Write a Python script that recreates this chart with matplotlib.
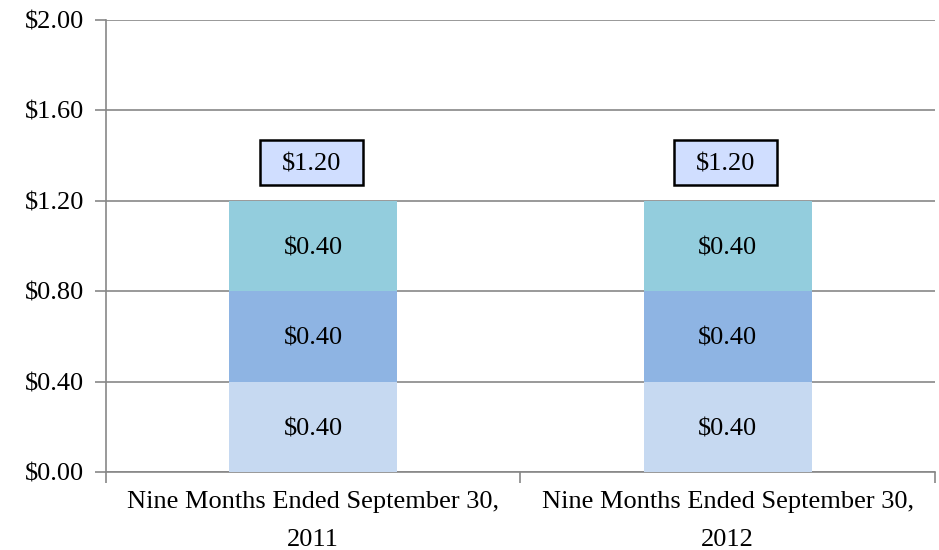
import matplotlib.pyplot as plt
from matplotlib.patches import Rectangle
import numpy as np

plt.rcParams['font.family'] = ['Liberation Serif', 'DejaVu Serif']

categories = ['Nine Months Ended September 30,\n2011', 'Nine Months Ended September 30,\n2012']
bottom_vals = [0.40, 0.40]
middle_vals = [0.40, 0.40]
top_vals = [0.40, 0.40]
totals = [1.20, 1.20]
yticks = [0.0, 0.4, 0.8, 1.2, 1.6, 2.0]

colors = ['#C6D9F1', '#8EB4E3', '#93CDDD']
grid_col = '#878787'
fs = 19

fig = plt.figure(figsize=(9.39, 5.5), dpi=100)
ax = fig.add_axes([0.1129, 0.1418, 0.8828, 0.8218])

x = np.arange(len(categories))
width = 0.405
base = np.zeros(len(categories))
for vals, c in zip([bottom_vals, middle_vals, top_vals], colors):
    ax.bar(x, vals, width, bottom=base, color=c, zorder=3)
    for xi, b, v in zip(x, base, vals):
        ax.text(xi, b + v / 2, f'${v:.2f}', ha='center', va='center_baseline',
                fontsize=fs, zorder=4)
    base = base + np.array(vals)

# total labels in boxes above the stacks
bw, bh = 0.248, 0.198
for xi, t in zip(x, totals):
    cy = t + 0.17
    ax.add_patch(Rectangle((xi - 0.005 - bw / 2, cy - bh / 2), bw, bh,
                           fc='#D0DEFF', ec='black', lw=1.8, zorder=4))
    ax.text(xi - 0.005, cy, f'${t:.2f}', ha='center', va='center_baseline',
            fontsize=fs, zorder=5)

ax.set_ylim(0, 2.0)
ax.set_xlim(-0.5, 1.5)
ax.set_yticks(yticks)
ax.set_yticklabels([f'${v:.2f}' for v in yticks], fontsize=fs)
ax.yaxis.grid(True, color=grid_col, lw=1.2, zorder=0)
ax.tick_params(axis='y', length=8, color=grid_col, width=1.2, pad=8)

ax.set_xticks([-0.5, 0.5, 1.5])
ax.set_xticklabels(['', '', ''])
ax.tick_params(axis='x', which='major', length=8, color=grid_col, width=1.2)
ax.set_xticks(x, minor=True)
ax.set_xticklabels(categories, minor=True, fontsize=fs, linespacing=1.9)
ax.tick_params(axis='x', which='minor', length=0, pad=14)

for s in ['top', 'right']:
    ax.spines[s].set_visible(False)
for s in ['left', 'bottom']:
    ax.spines[s].set_color(grid_col)
    ax.spines[s].set_linewidth(1.2)

fig.savefig('out.png', dpi=100)
